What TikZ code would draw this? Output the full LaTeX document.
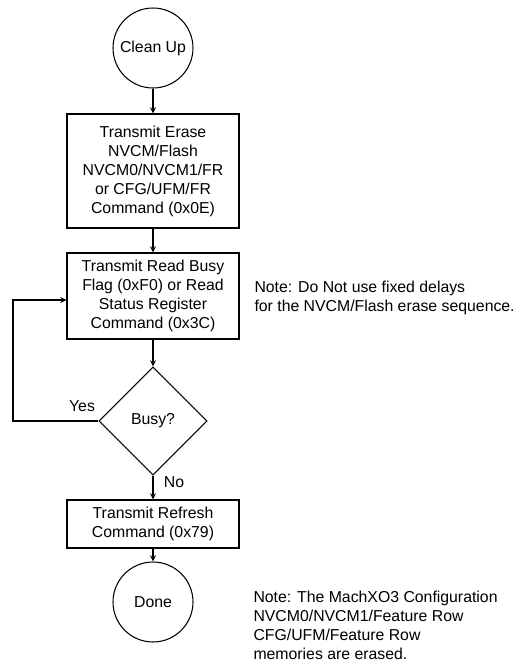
\documentclass[tikz,border=0pt]{standalone}
\usepackage{fontspec}
\setmainfont{Liberation Sans}
\usetikzlibrary{shapes.geometric}
\usetikzlibrary{positioning}

\begin{document}
\begin{tikzpicture}[x=0.02cm,y=-0.02cm,->,>=stealth,line width=0.6pt,
	font=\fontsize{9}{10.8}\selectfont,
	term node/.style={circle,draw,inner sep=0pt,minimum size=1.6cm},
	cmd node/.style={rectangle,draw,align=center,inner sep=0pt,minimum width=3.44cm},
	test node/.style={diamond,draw,inner sep=0pt,aspect=1,minimum width=2.16cm,minimum height=2.16cm},
	note node/.style={anchor=west,align=left,inner sep=0pt}]
			
			\useasboundingbox (0,0) rectangle (514,664);
			
			\node[term node] at (153,48) (cleanup) {Clean Up};
			\node[cmd node,minimum height=2.28cm] at (153,171) (erase) {Transmit Erase\\NVCM/Flash\\NVCM0/NVCM1/FR\\or CFG/UFM/FR\\Command (0x0E)};
			\node[cmd node,minimum height=1.72cm] at (153,296) (readbusy) {Transmit Read Busy\\Flag (0xF0) or Read\\Status Register\\Command (0x3C)};
			\node[test node] at (153,421) (busy) {Busy?};
			\node[cmd node,minimum height=0.96cm] at (153,524) (refresh) {Transmit Refresh\\Command (0x79)};
			\node[term node] at (153,602) (done) {Done};
			
			\coordinate (loop) at (13,421);
			
			\node[inner sep=0pt] at (82,406) (yes) {Yes};
			\node[inner sep=0pt] at (174,482) (no) {No};
			
			\node[note node] at (254,298) (note1) {Note: Do Not use fixed delays\\for the NVCM/Flash erase sequence.};
			\node[note node] at (253,625) (note2) {Note: The MachXO3 Configuration\\NVCM0/NVCM1/Feature Row\\CFG/UFM/Feature Row\\memories are erased.};
			
			\path
			(cleanup) edge (erase)
			(erase) edge (readbusy)
			(readbusy) edge (busy)
			(busy) edge (refresh)
			(refresh) edge (done)
			;
			\draw (busy.west) -- (loop) |- ([yshift=-0.08cm]readbusy.west);
			
			\end{tikzpicture}
\end{document}
